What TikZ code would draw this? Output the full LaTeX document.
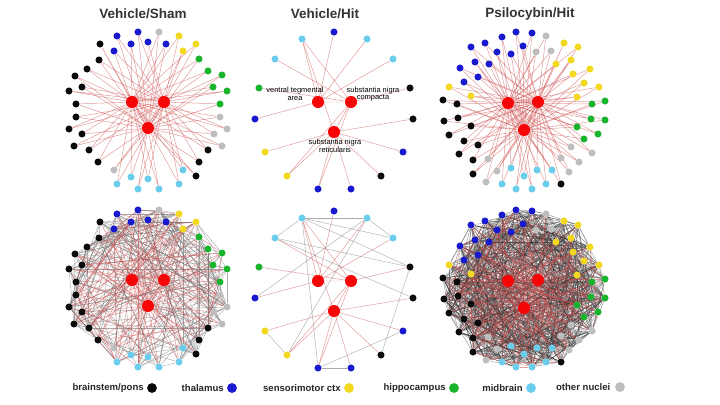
\documentclass[tikz,border=0pt]{standalone}
\usepackage{fontspec}
\setmainfont{Liberation Sans}
\usetikzlibrary{positioning,backgrounds}
\definecolor{nblack}{RGB}{10,10,10}
\definecolor{nblue}{RGB}{25,25,205}
\definecolor{nyellow}{RGB}{242,216,30}
\definecolor{ngreen}{RGB}{25,180,45}
\definecolor{nlblue}{RGB}{105,205,235}
\definecolor{ngray}{RGB}{190,190,190}
\definecolor{nred}{RGB}{245,5,5}
\definecolor{redline}{RGB}{205,75,75}
\tikzset{
  pnode/.style={circle,inner sep=0pt,minimum size=5pt},
  hub/.style={circle,fill=nred,inner sep=0pt,minimum size=8.6pt},
  keydot/.style={circle,inner sep=0pt,minimum size=7pt},
  keytext/.style={font=\bfseries\fontsize{6.8}{8}\selectfont,text=black!85,inner sep=0pt},
  paneltitle/.style={font=\bfseries\fontsize{9.6}{11}\selectfont,text=black!80},
  hublabel/.style={font=\fontsize{5.3}{5.4}\selectfont,align=center,inner sep=0pt},
  redge/.style={draw=redline,line width=0.35pt,opacity=0.55},
  gedge/.style={draw=black!55,line width=0.3pt,opacity=0.6},
  dedge/.style={draw=black!80,line width=0.3pt,opacity=0.5}
}
\newcommand\shamnodes[2]{%
  \foreach \n/\x/\y/\col in {1/138/32/nblue,2/159/32/ngray,3/179/36/nyellow,4/148/42/nblue,5/166/44/nblue,
    6/196/44/nyellow,7/183/51/nyellow,8/199/59/ngreen,9/208/71/ngreen,10/222/75/ngreen,11/213/87/ngreen,
    12/227/91/ngreen,13/220/104/ngreen,14/220/117/ngray,15/227/129/ngray,16/214/134/ngray,17/222/146/ngray,
    18/208/150/nblack,19/199/162/nblack,20/196/176/nblack,21/183/170/nlblue,22/179/184/nlblue,23/159/189/nlblue,
    24/148/179/nlblue,25/138/189/nlblue,26/131/177/nlblue,27/117/184/nlblue,28/114/170/ngray,29/98/162/nblack,
    30/89/150/nblack,31/74/146/nblack,32/82/134/nblack,33/69/129/nblack,34/76/117/nblack,35/76/104/nblack,
    36/69/91/nblack,37/82/87/nblack,38/75/76/nblack,39/87/69/nblack,40/99/60/nblack,41/100/44/nblack,
    42/114/51/nblue,43/117/36/nblue,44/131/44/nblue}
    \node[pnode,fill=\col] (#1\n) at (\x,{\y+#2}) {};
  \node[hub] (#1vta) at (132,{102+#2}) {};
  \node[hub] (#1snc) at (164,{102+#2}) {};
  \node[hub] (#1snr) at (148,{128+#2}) {};}
\newcommand\hitnodes[2]{%
  \foreach \n/\x/\y/\col in {1/334/32/nblue,2/367/39/nlblue,3/393/59/nlblue,4/410/88/nblack,5/413/119/nblack,
    6/403/152/nblue,7/381/176/nblack,8/351/189/nblue,9/318/189/nblue,10/287/176/nyellow,11/265/152/nyellow,
    12/255/119/nblue,13/259/88/ngreen,14/275/59/nlblue,15/302/39/nlblue}
    \node[pnode,fill=\col] (#1\n) at (\x,{\y+#2}) {};
  \node[hub] (#1vta) at (318,{102+#2}) {};
  \node[hub] (#1snc) at (351,{102+#2}) {};
  \node[hub] (#1snr) at (334,{132+#2}) {};}
\newcommand\psilnodes[2]{%
  \foreach \n/\x/\y/\col in {1/516/32/nblue,2/532/33/nblue,3/546/36/ngray,4/523/46/nblue,5/536/52/ngray,
    6/551/51/ngray,7/564/43/nyellow,8/578/47/nyellow,9/556/64/nyellow,10/571/60/nyellow,11/590/69/nyellow,
    12/573/74/nyellow,13/584/83/nyellow,14/599/87/nyellow,15/577/97/nyellow,16/605/101/ngreen,17/592/104/ngreen,
    18/591/119/ngreen,19/605/120/ngreen,20/577/127/ngreen,21/598/134/ngreen,22/584/139/ngreen,23/571/147/ngray,
    24/592/153/ngray,25/561/158/ngray,26/579/162/ngray,27/569/172/ngray,28/561/184/nblack,29/552/170/nlblue,
    30/546/184/nlblue,31/537/170/nlblue,32/532/189/nlblue,33/524/176/nlblue,34/516/189/nlblue,35/511/168/nlblue,
    36/502/184/nlblue,37/497/171/ngray,38/486/182/ngray,39/488/159/ngray,40/473/174/nblack,41/473/160/nblack,
    42/459/154/nblack,43/478/145/nblack,44/464/141/nblack,45/449/135/nblack,46/471/126/nblack,47/444/121/nblack,
    48/458/118/nblack,49/457/104/nblack,50/443/100/nblack,51/471/96/nyellow,52/449/87/nyellow,53/464/82/nblue,
    54/478/77/nblue,55/460/68/nblue,56/475/62/nblue,57/489/64/nblue,58/471/47/nblue,59/497/52/nblue,
    60/485/43/nblue,61/511/54/nblue,62/502/37/nblue}
    \node[pnode,fill=\col] (#1\n) at (\x,{\y+#2}) {};
  \node[hub] (#1vta) at (508,{103+#2}) {};
  \node[hub] (#1snc) at (538,{102+#2}) {};
  \node[hub] (#1snr) at (524,{130+#2}) {};}
\newcommand\hubedges[2]{%
  \foreach \i in {1,...,#2}{%
    \pgfmathtruncatemacro\k{mod(\i,3)}%
    \ifcase\k \draw[redge] (#1\i) -- (#1vta) (#1\i) -- (#1snc);
    \or \draw[redge] (#1\i) -- (#1snc) (#1\i) -- (#1snr);
    \else \draw[redge] (#1\i) -- (#1snr) (#1\i) -- (#1vta);
    \fi}
  \draw[redge] (#1vta) -- (#1snc) -- (#1snr) -- (#1vta);}
\newcommand\hitedges[1]{%
  \foreach \a/\b in {15/vta,15/snc,15/snr,1/vta,2/vta,3/vta,14/snc,13/snc,4/snc,5/snr,12/vta,
    11/snr,10/snr,10/snc,9/snr,9/snc,8/snr,6/snr,7/snr}
    \draw[redge] (#1\a) -- (#1\b);
  \draw[redge] (#1vta) -- (#1snc) -- (#1snr);}
\newcommand\ring[3]{%
  \foreach \i in {1,...,#2}{%
    \pgfmathtruncatemacro\nxt{mod(\i,#2)+1}%
    \draw[#3] (#1\i) -- (#1\nxt);}}
\newcommand\chords[4]{%
  \foreach \m in {1,...,#3}{%
    \pgfmathtruncatemacro\pa{random(1,#2)}%
    \pgfmathtruncatemacro\pb{random(1,#2)}%
    \ifnum\pa=\pb\else\draw[#4] (#1\pa) -- (#1\pb);\fi}}
\begin{document}
\begin{tikzpicture}[x=0.025cm,y=-0.025cm]
\useasboundingbox (0,0) rectangle (720,405);
\node[paneltitle] (tsham) at (143,14) {Vehicle/Sham};
\node[paneltitle] (thit) at (325,14) {Vehicle/Hit};
\node[paneltitle] (tpsil) at (530,14) {Psilocybin/Hit};

\shamnodes{shamT}{0}
\shamnodes{shamB}{178}
\hitnodes{hitT}{0}
\hitnodes{hitB}{179}
\psilnodes{psilT}{0}
\psilnodes{psilB}{178}

\begin{pgfonlayer}{background}
\pgfmathsetseed{11}
\hubedges{shamT}{44}
\ring{shamB}{44}{gedge}
\chords{shamB}{44}{200}{gedge}
\chords{shamB}{44}{50}{redge}
\hubedges{shamB}{44}
\hitedges{hitT}
\foreach \a/\b in {15/2,2/3,15/14,15/3,15/4,14/4,14/5,15/9,4/7,9/8,6/9,11/10,2/12,2/10}
  \draw[gedge] (hitB\a) -- (hitB\b);
\hitedges{hitB}
\hubedges{psilT}{62}
\ring{psilB}{62}{dedge}
\chords{psilB}{62}{750}{dedge}
\chords{psilB}{62}{90}{redge}
\hubedges{psilB}{62}
\end{pgfonlayer}

\node[hublabel] (lvta) at (295,94) {ventral tegmental\\area};
\node[hublabel] (lsnc) at (373,94) {substantia nigra\\compacta};
\node[hublabel] (lsnr) at (335,146) {substantia nigra\\reticularis};

\node[keydot,fill=nblack] (kbrain) at (152,388) {};
\node[keytext,left=2pt of kbrain] (lbrain) {brainstem/pons};
\node[keydot,fill=nblue] (kthal) at (232,388) {};
\node[keytext,left=2pt of kthal] (lthal) {thalamus};
\node[keydot,fill=nyellow] (ksens) at (349,388) {};
\node[keytext,left=2pt of ksens] (lsens) {sensorimotor ctx};
\node[keydot,fill=ngreen] (khipp) at (454,388) {};
\node[keytext,left=2pt of khipp] (lhipp) {hippocampus};
\node[keydot,fill=nlblue] (kmid) at (531,388) {};
\node[keytext,left=2pt of kmid] (lmid) {midbrain};
\node[keydot,fill=ngray] (koth) at (620,387) {};
\node[keytext,left=3pt of koth] (loth) {other nuclei};
\end{tikzpicture}
\end{document}
